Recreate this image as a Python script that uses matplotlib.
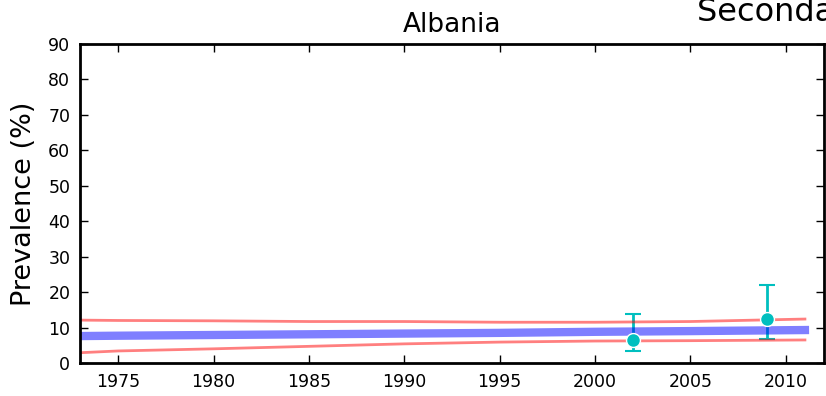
import matplotlib
matplotlib.use("Agg")
import matplotlib.pyplot as plt

# Data
years_line = [1973, 1975, 1980, 1985, 1990, 1995, 2000, 2005, 2011]
mean_line = [7.6, 7.7, 7.9, 8.1, 8.3, 8.5, 8.8, 9.0, 9.3]
upper_line = [12.1, 12.0, 11.9, 11.7, 11.7, 11.5, 11.5, 11.7, 12.4]
lower_line = [2.9, 3.4, 4.0, 4.7, 5.4, 5.9, 6.2, 6.3, 6.5]

survey_years = [2002, 2009]
survey_vals = [6.5, 12.5]
survey_lo = [3.4, 6.7]
survey_hi = [13.7, 21.9]

yticks = [0, 10, 20, 30, 40, 50, 60, 70, 80, 90]
xticks = [1975, 1980, 1985, 1990, 1995, 2000, 2005, 2010]

fig = plt.figure(figsize=(8.26, 3.96), dpi=100)
ax = fig.add_axes([80/826, 1-363/396, (824-80)/826, (363-44)/396])

yerr = [[v - l for v, l in zip(survey_vals, survey_lo)],
        [h - v for v, h in zip(survey_vals, survey_hi)]]
ax.errorbar(survey_years, survey_vals, yerr=yerr, fmt='none', ecolor='c',
            elinewidth=2, capsize=6, capthick=1.5, zorder=1)
ax.plot(years_line, mean_line, color='blue', alpha=0.5, lw=6, zorder=2)
ax.plot(years_line, upper_line, color='red', alpha=0.5, lw=2, zorder=2)
ax.plot(years_line, lower_line, color='red', alpha=0.5, lw=2, zorder=2)
ax.plot(survey_years, survey_vals, 'o', color='c', markersize=10,
        markeredgecolor='white', markeredgewidth=1, zorder=3)

ax.set_xlim(1973, 2012)
ax.set_ylim(0, 90)
ax.set_xticks(xticks)
ax.set_yticks(yticks)
ax.tick_params(direction='in', top=True, right=True, length=6, width=1,
               labelsize=12.5, pad=7)
for s in ax.spines.values():
    s.set_linewidth(2)

ax.set_title("Albania", fontsize=19, pad=9)
ax.set_ylabel("Prevalence (%)", fontsize=19.5, labelpad=8)
ax.set_xlabel("Year", fontsize=19.5, labelpad=8)

fig.text(697/826, 1 - 21/396, "Secondary school", fontsize=23, ha='left', va='baseline')

fig.savefig("out.png", dpi=100)
